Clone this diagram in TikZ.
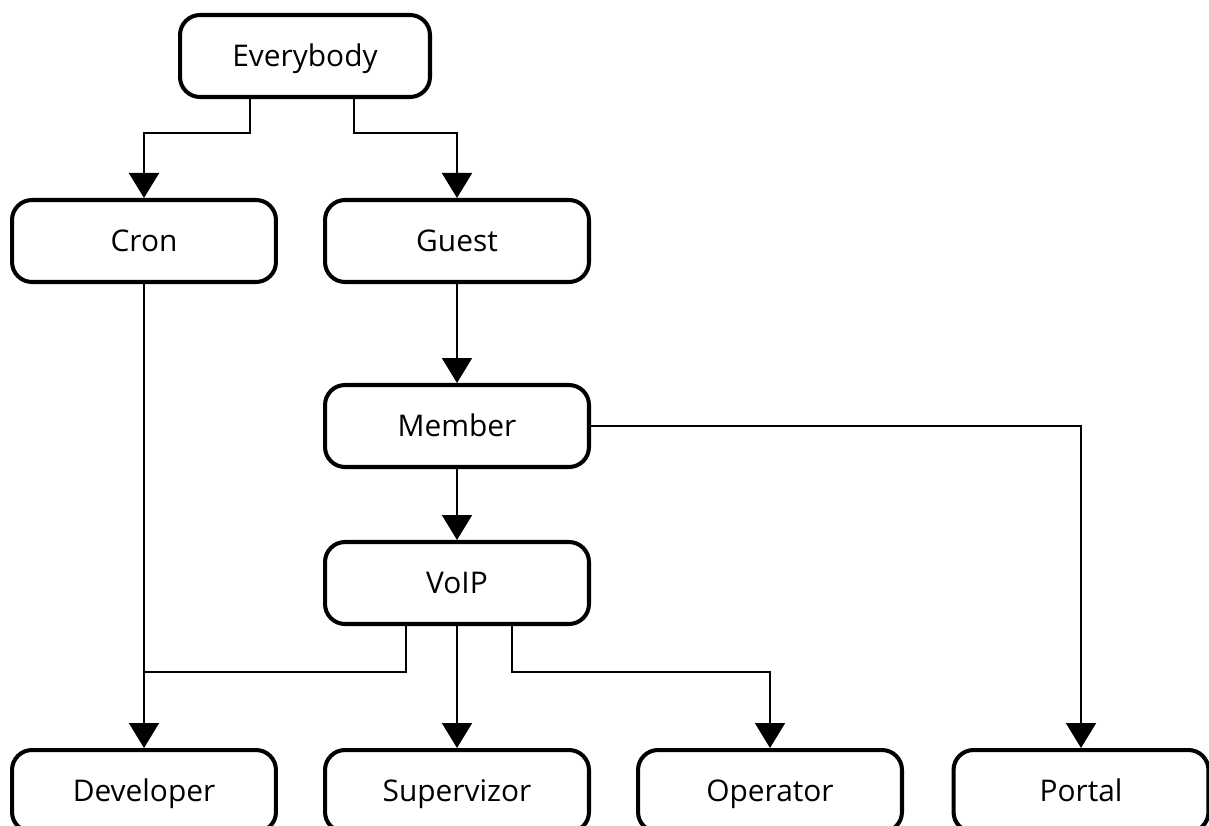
\documentclass[tikz,border=0pt]{standalone}
\usepackage{fontspec}
\setmainfont{Open Sans}
\usetikzlibrary{arrows.meta}
\begin{document}
\begin{tikzpicture}[x=0.02cm,y=-0.02cm,
		every node/.style={draw,rounded corners=0.4cm,line width=2.3pt,minimum width=5.28cm,minimum height=1.64cm,inner sep=0pt,text height=12pt,text depth=0pt,font=\fontsize{17}{20}\selectfont},
		link/.style={line width=1.1pt,-{Triangle[width=0.6cm,length=0.5cm]}}]
		\useasboundingbox (0,0) rectangle (1209,825);
		% top
		\node (evb) at (305,56)[minimum width=5cm]{Everybody};
		\node (cron) at (144,241){Cron};
		\node (gst) at (457,241){Guest};
		\node (mem) at (457,426){Member};
		\node (voip) at (457,583){VoIP};
		% bottom row
		\node (dev) at (144,791){Developer};
		\node (sup) at (457,791){Supervizor};
		\node (op) at (770,791){Operator};
		\node (por) at (1081,791)[minimum width=5.1cm]{Portal};
		% bends
		\coordinate (e1) at (250,133);
		\coordinate (e2) at (354,133);
		\coordinate (v1) at (406,672);
		\coordinate (v2) at (512,672);
		\draw[link] (evb.south -| e1)--(e1)-|(cron);
		\draw[link] (evb.south -| e2)--(e2)-|(gst);
		\draw[link] (gst)--(mem);
		\draw[link] (mem)--(voip);
		\draw[link] (mem)-|(por);
		\draw[link] (cron)--(dev);
		\draw[line width=1.1pt] (voip.south -| v1)--(v1)--(cron.south |- v1);
		\draw[link] (voip)--(sup);
		\draw[link] (voip.south -| v2)--(v2)-|(op);
\end{tikzpicture}
\end{document}
